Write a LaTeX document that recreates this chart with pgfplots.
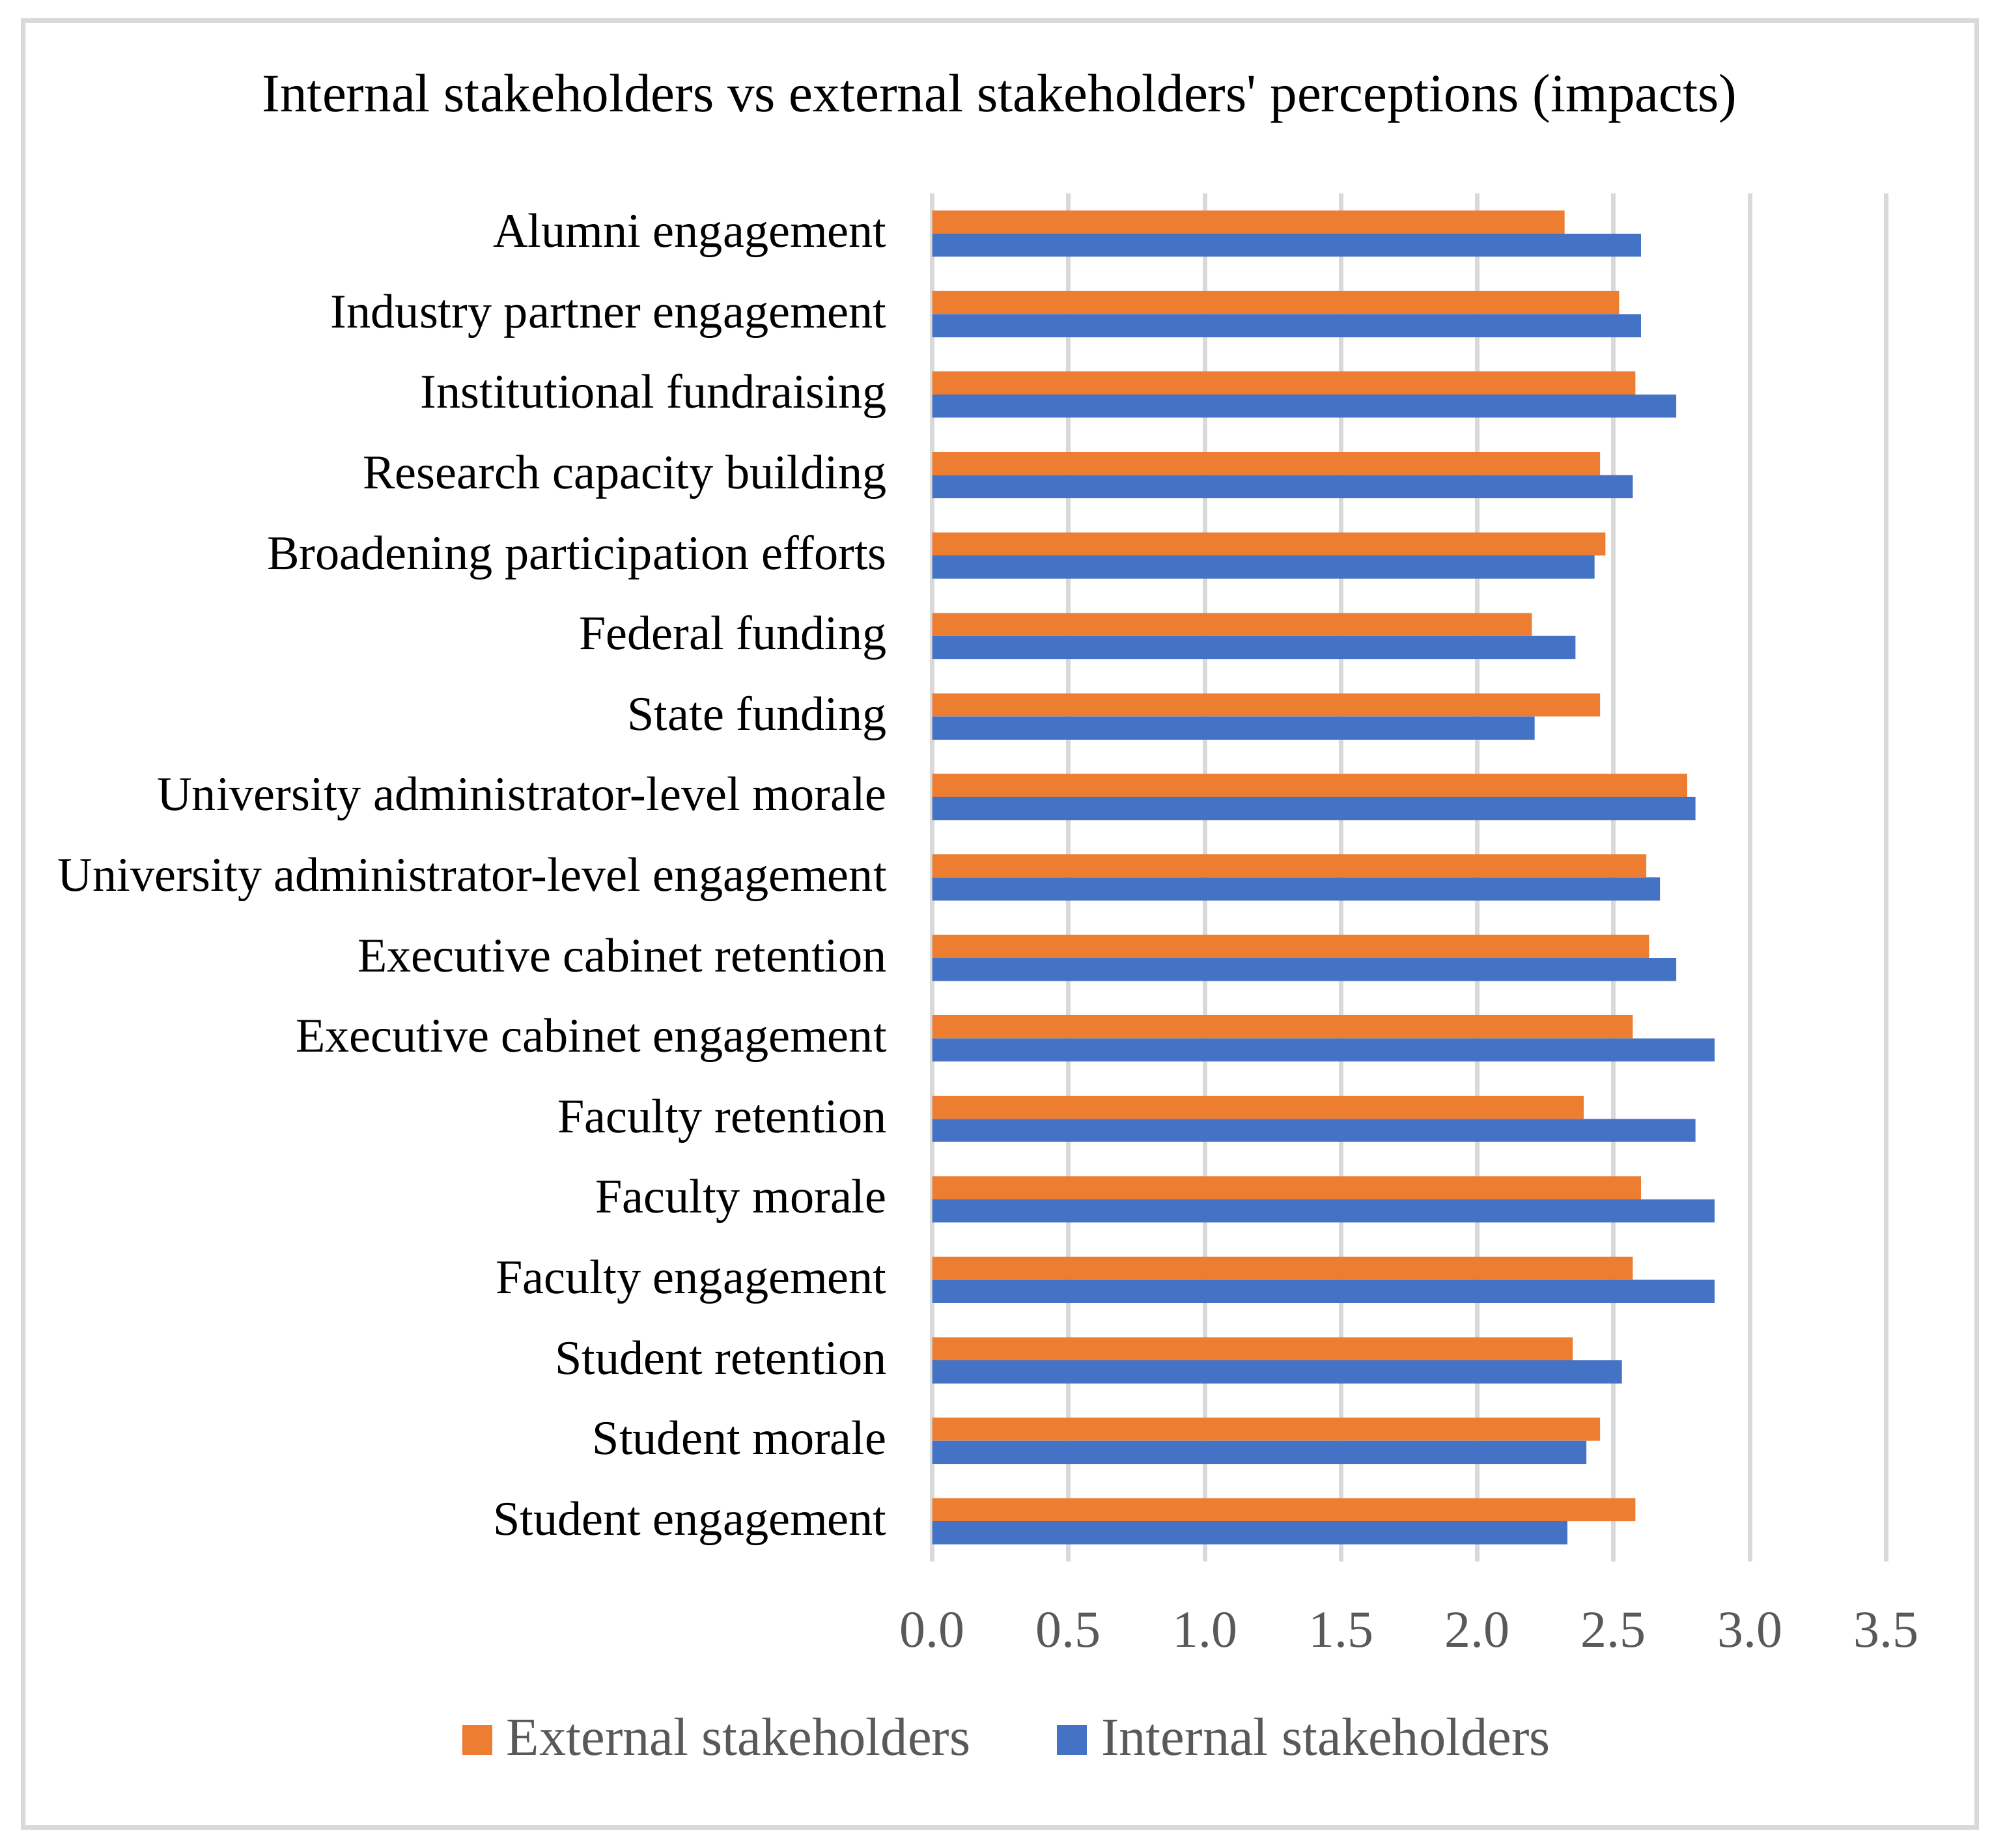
\documentclass[border=0pt]{standalone}
\usepackage{fontspec}
\setmainfont{Liberation Serif}
\usepackage{pgfplots}
\pgfplotsset{compat=1.18}
\definecolor{cOrange}{HTML}{ED7D31}
\definecolor{cBlue}{HTML}{4472C4}
\definecolor{cGrid}{HTML}{D9D9D9}
\definecolor{cText}{HTML}{595959}
\begin{document}
\begin{tikzpicture}
\useasboundingbox (0pt,0pt) rectangle (611.8pt,567.4pt);
\draw[cGrid, line width=1.4pt] (7pt,6.2pt) rectangle (607pt,561.1pt);
\node[anchor=base, inner sep=0pt, font=\fontsize{16.6}{20}\selectfont] at (307pt,533pt) {Internal stakeholders vs external stakeholders\textquotesingle{} perceptions (impacts)};
\begin{axis}[
  at={(286.3pt,87.8pt)}, anchor=south west,
  scale only axis, width=293pt, height=420.2pt,
  xbar, bar width=0.287,
  xmin=0, xmax=3.5, ymin=-0.5, ymax=16.5,
  xtick={0,0.5,1,1.5,2,2.5,3,3.5},
  ytick={0,1,2,3,4,5,6,7,8,9,10,11,12,13,14,15,16},
  yticklabels={Student engagement, Student morale, Student retention, Faculty engagement, Faculty morale, Faculty retention, Executive cabinet engagement, Executive cabinet retention, University administrator-level engagement, University administrator-level morale, State funding, Federal funding, Broadening participation efforts, Research capacity building, Institutional fundraising, Industry partner engagement, Alumni engagement},
  axis line style={draw=none},
  major tick length=0pt,
  xmajorgrids, major grid style={cGrid, line width=1.4pt},
  /pgf/number format/assume math mode=true,
  xticklabel={\pgfmathprintnumber[fixed,fixed zerofill,precision=1]{\tick}},
  xticklabel style={anchor=base, inner sep=0pt, yshift=-26.2pt, font=\fontsize{16}{19}\selectfont, text=cText},
  yticklabel style={anchor=base east, inner sep=0pt, xshift=-13.8pt, yshift=-4.2pt, font=\fontsize{14.85}{18}\selectfont, text=black},
  legend columns=2,
  legend cell align=left,
  legend image code/.code={\fill[#1] (0pt,-4.9pt) rectangle (9.2pt,4.3pt);},
  legend style={draw=none, fill=none, inner sep=0pt, outer sep=0pt,
    at={(-0.49263,-0.14517)}, anchor=south west,
    nodes={inner sep=0pt, text=cText},
    font=\fontsize{16.5}{19}\selectfont,
    /tikz/every odd column/.append style={column sep=4.4pt},
    /tikz/every even column/.append style={column sep=26.6pt}},
]
\addplot[fill=cOrange, draw=none, bar shift=0.1435] coordinates {
(2.58,0) (2.45,1) (2.35,2) (2.57,3) (2.60,4) (2.39,5) (2.57,6) (2.63,7) (2.62,8) (2.77,9) (2.45,10) (2.20,11) (2.47,12) (2.45,13) (2.58,14) (2.52,15) (2.32,16)};
\addlegendentry{External stakeholders}
\addplot[fill=cBlue, draw=none, bar shift=-0.1435] coordinates {
(2.33,0) (2.40,1) (2.53,2) (2.87,3) (2.87,4) (2.80,5) (2.87,6) (2.73,7) (2.67,8) (2.80,9) (2.21,10) (2.36,11) (2.43,12) (2.57,13) (2.73,14) (2.60,15) (2.60,16)};
\addlegendentry{Internal stakeholders}
\end{axis}
\end{tikzpicture}
\end{document}
